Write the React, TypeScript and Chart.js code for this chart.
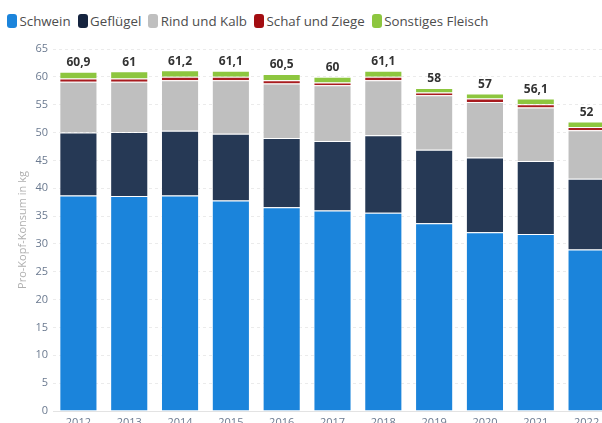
import React, { useEffect, useRef } from "react";
import { Chart, registerables } from "chart.js";

Chart.register(...registerables);

const years = ["2012", "2013", "2014", "2015", "2016", "2017", "2018", "2019", "2020", "2021", "2022"];
const schwein = [38.7, 38.6, 38.7, 37.8, 36.6, 36.0, 35.6, 33.7, 32.1, 31.8, 29.0];
const gefluegel = [11.3, 11.5, 11.6, 12.0, 12.4, 12.5, 13.9, 13.2, 13.4, 13.1, 12.7];
const rind = [9.1, 9.0, 9.1, 9.6, 9.8, 10.0, 9.9, 9.8, 10.0, 9.6, 8.7];
const schaf = [0.6, 0.6, 0.6, 0.6, 0.6, 0.5, 0.6, 0.5, 0.6, 0.6, 0.6];
const sonstiges = [1.2, 1.3, 1.2, 1.1, 1.1, 1.0, 1.1, 0.8, 0.9, 1.0, 1.0];
const totals = [60.9, 61, 61.2, 61.1, 60.5, 60, 61.1, 58, 57, 56.1, 52];

const seriesNames = ["Schwein", "Geflügel", "Rind und Kalb", "Schaf und Ziege", "Sonstiges Fleisch"];
const seriesColors = ["#1b84db", "#263955", "#bfbfbf", "#a81c1f", "#8dc63f"];
const legendColors = ["#1b84db", "#15243f", "#bfbfbf", "#a30d11", "#8dc63f"];
const seriesData = [schwein, gefluegel, rind, schaf, sonstiges];

const FONT = "'Open Sans', 'Noto Sans', sans-serif";

const totalLabels = {
  id: "totalLabels",
  afterDatasetsDraw(chart: any) {
    const ctx = chart.ctx;
    const xs = chart.scales.x;
    const ys = chart.scales.y;
    ctx.save();
    ctx.font = `bold 12px ${FONT}`;
    ctx.fillStyle = "#333333";
    ctx.textAlign = "center";
    ctx.textBaseline = "bottom";
    totals.forEach((t, i) => {
      const x = xs.getPixelForValue(i);
      const y = ys.getPixelForValue(t);
      ctx.fillText(String(t).replace(".", ","), x, y - 3);
    });
    ctx.restore();
  },
};

export default function App() {
  const ref = useRef<HTMLCanvasElement | null>(null);

  useEffect(() => {
    if (!ref.current) return;
    const chart = new Chart(ref.current, {
      type: "bar",
      data: {
        labels: years,
        datasets: seriesNames.map((name, k) => ({
          label: name,
          data: seriesData[k],
          backgroundColor: seriesColors[k],
          borderColor: "rgba(255,255,255,0.55)",
          borderWidth: 1,
          categoryPercentage: 0.75,
          barPercentage: 1,
        })),
      },
      options: {
        responsive: false,
        animation: false,
        layout: { padding: { top: 49, left: 0, right: 0, bottom: 0 } },
        plugins: {
          legend: { display: false },
          tooltip: { enabled: false },
        },
        scales: {
          x: {
            stacked: true,
            grid: { display: false, drawTicks: false },
            border: { display: true, color: "#e3e3e3" },
            ticks: { color: "#6b7a90", font: { family: FONT, size: 11 }, padding: 5 },
            afterFit: (s: any) => {
              s.height = 20;
            },
          },
          y: {
            stacked: true,
            min: 0,
            max: 65,
            border: { display: false, dash: [3, 3] },
            grid: { color: "#ebebeb", drawTicks: false },
            ticks: {
              stepSize: 5,
              color: "#6b7a90",
              font: { family: FONT, size: 11 },
              padding: 5,
            },
            title: {
              display: true,
              text: "Pro-Kopf-Konsum in kg",
              color: "#b0b0b0",
              font: { family: FONT, size: 11 },
              padding: { top: 16, bottom: 0 },
            },
            afterFit: (s: any) => {
              s.width = 53;
            },
          },
        },
      },
      plugins: [totalLabels],
    });
    return () => chart.destroy();
  }, []);

  return (
    <div
      style={{
        position: "fixed",
        left: 0,
        top: 0,
        width: 602,
        height: 423,
        overflow: "hidden",
        background: "#fff",
      }}
    >
      <div
        style={{
          position: "absolute",
          left: 7,
          top: 12,
          display: "flex",
          alignItems: "center",
          fontFamily: FONT,
          fontSize: 13.3,
          color: "#4d4d4d",
          whiteSpace: "nowrap",
        }}
      >
        {seriesNames.map((n, k) => (
          <div key={n} style={{ display: "flex", alignItems: "center", marginRight: 7 }}>
            <span
              style={{
                display: "inline-block",
                width: 10,
                height: 13.5,
                borderRadius: 3,
                background: legendColors[k],
                marginRight: 2.5,
              }}
            />
            <span>{n}</span>
          </div>
        ))}
      </div>
      <canvas ref={ref} width={612} height={431} style={{ position: "absolute", left: 0, top: 0 }} />
    </div>
  );
}
